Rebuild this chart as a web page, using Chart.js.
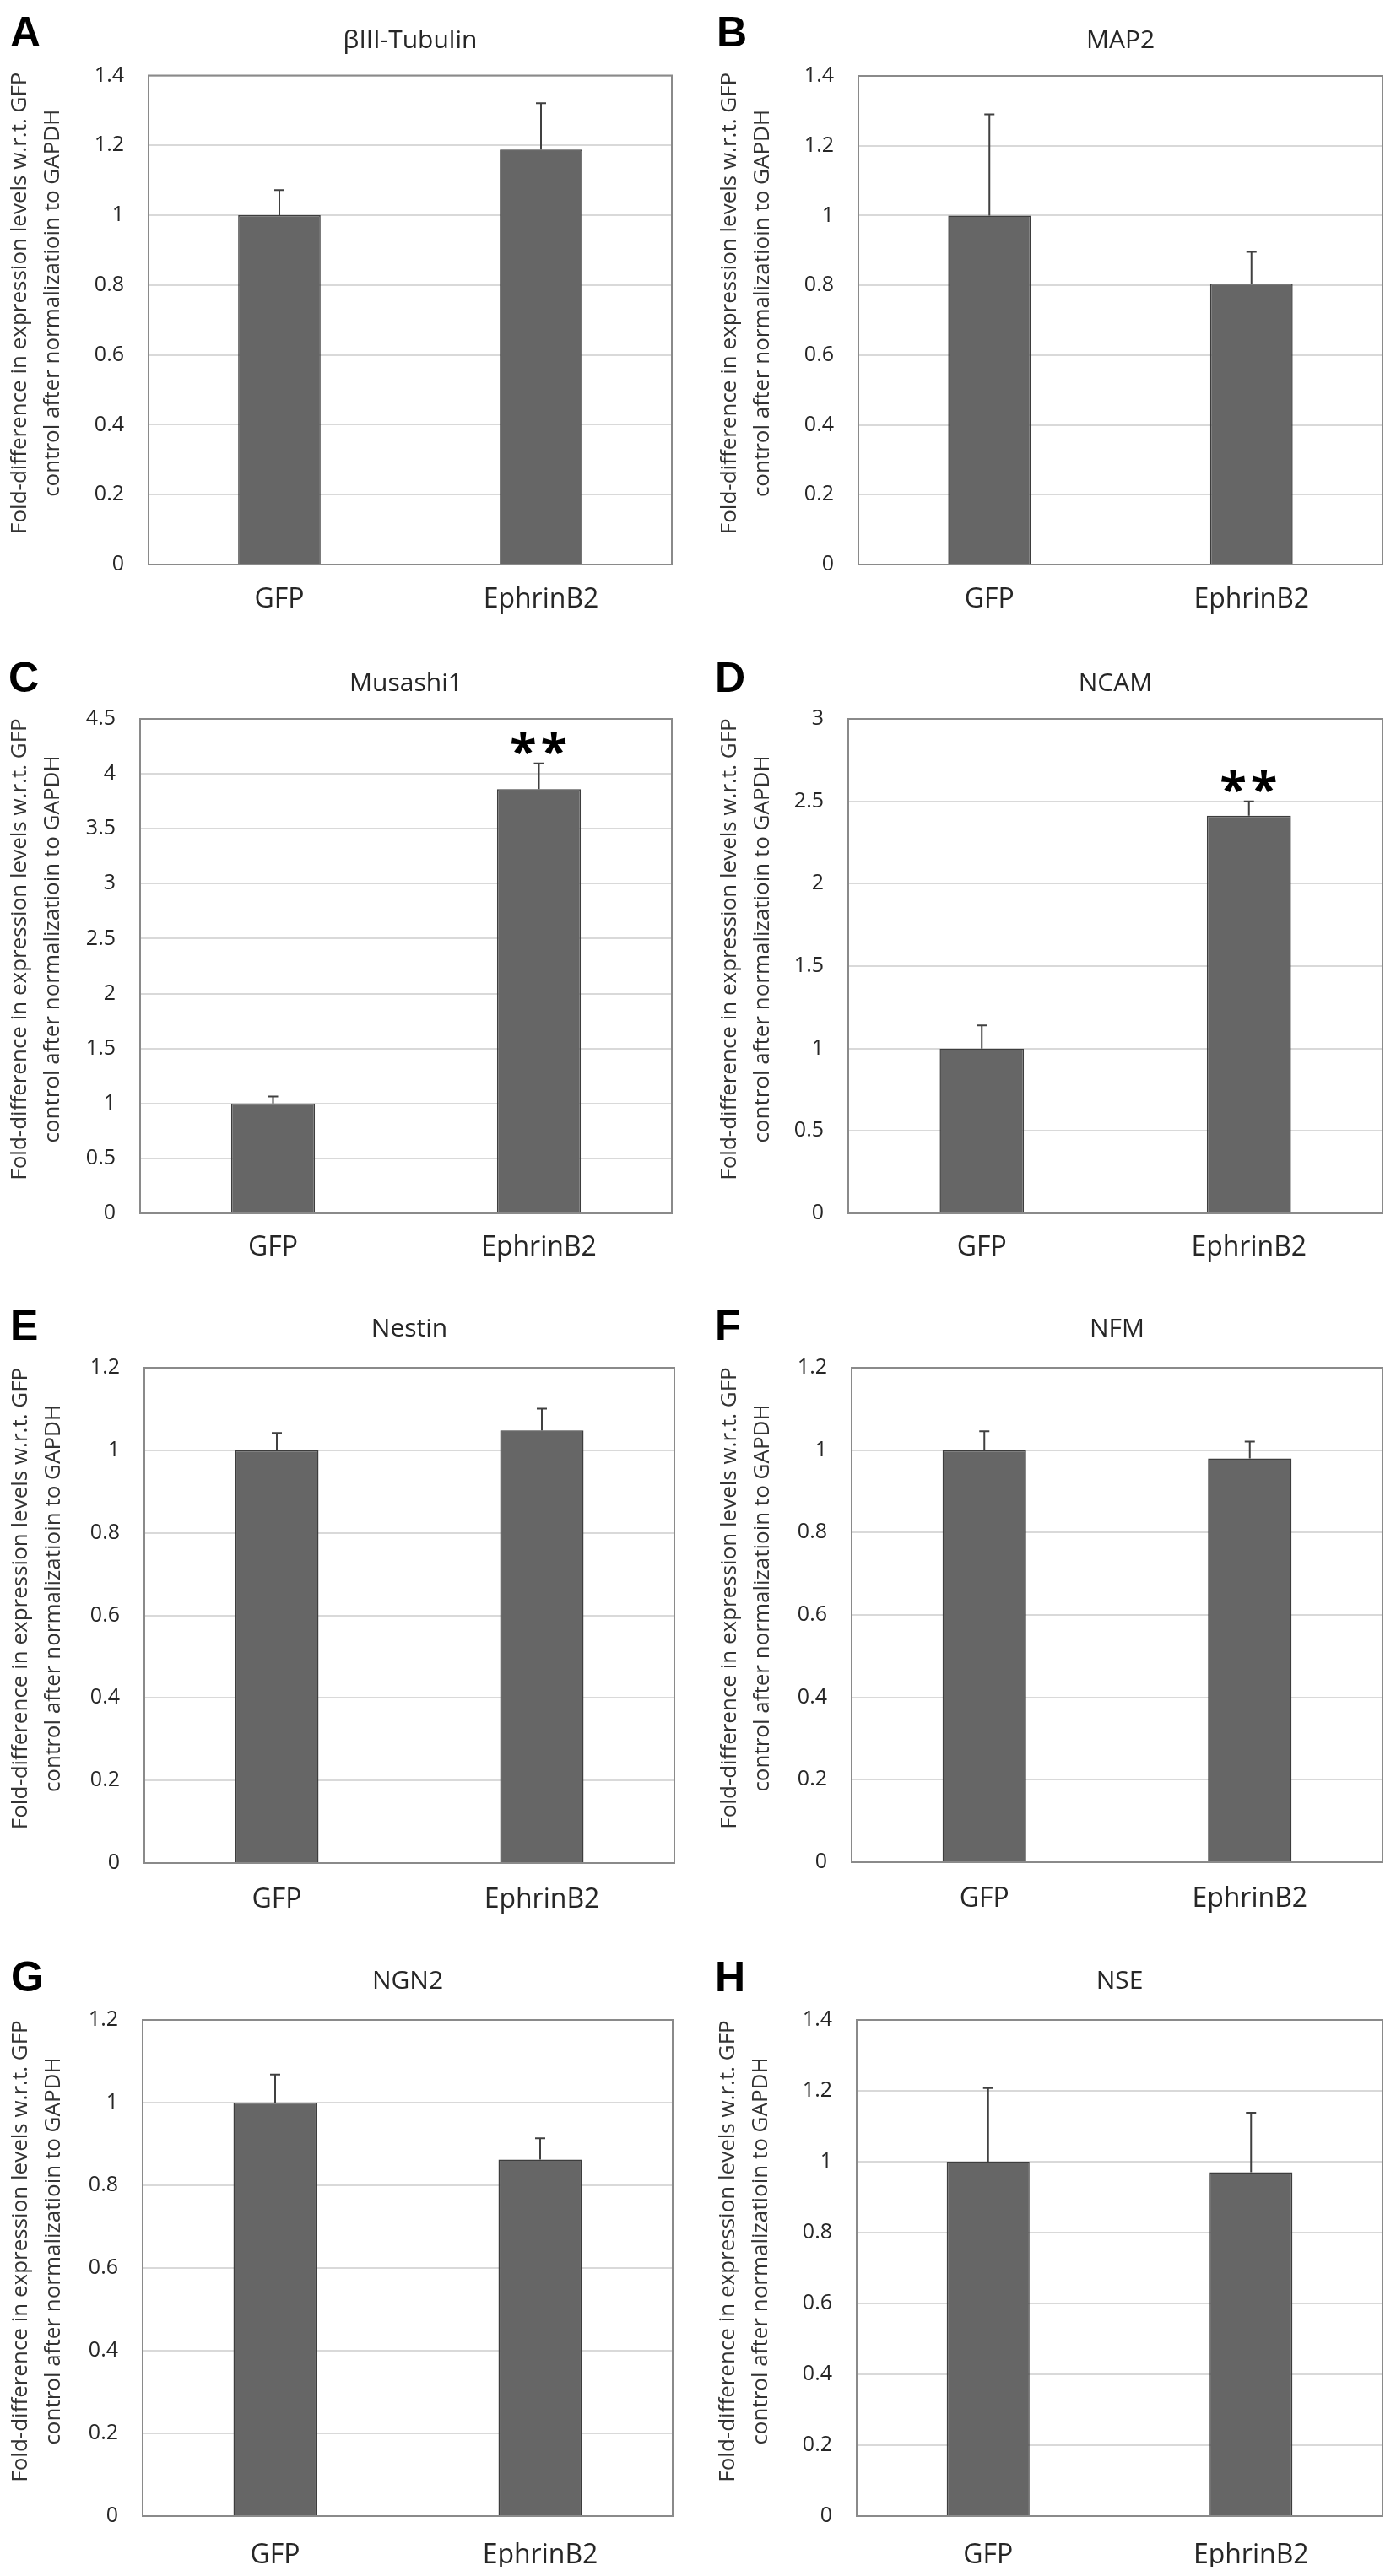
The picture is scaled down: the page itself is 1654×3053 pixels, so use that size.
<!DOCTYPE html>
<html><head><meta charset="utf-8">
<script src="https://cdn.jsdelivr.net/npm/chart.js@4.4.1/dist/chart.umd.min.js"></script>
<style>
html,body{margin:0;padding:0;background:#fff;}
#page{position:relative;width:1654px;height:3053px;overflow:hidden;background:#fff;}
#page canvas{position:absolute;}
.letter{position:absolute;font-family:'Liberation Sans',Arial,sans-serif;font-weight:bold;font-size:50px;line-height:50px;color:#000;}
</style></head><body><div id="page"></div>
<script>
// ---------- data ----------
const panelLetters = ['A','B','C','D','E','F','G','H'];
const genes = ['βIII-Tubulin','MAP2','Musashi1','NCAM','Nestin','NFM','NGN2','NSE'];
const categories = ['GFP','EphrinB2'];
const gfpMeans = [1, 1, 1, 1, 1, 1, 1, 1];
const gfpErrors = [0.072, 0.29, 0.064, 0.14, 0.042, 0.046, 0.068, 0.208];
const ephrinMeans = [1.188, 0.805, 3.86, 2.413, 1.048, 0.98, 0.862, 0.97];
const ephrinErrors = [0.133, 0.091, 0.235, 0.087, 0.053, 0.041, 0.052, 0.168];
const significance = ['', '', '**', '**', '', '', '', ''];
const yMax = [1.4, 1.4, 4.5, 3, 1.2, 1.2, 1.2, 1.4];
const yStep = [0.2, 0.2, 0.5, 0.5, 0.2, 0.2, 0.2, 0.2];
const yTitle = ['Fold-difference in expression levels w.r.t. GFP', 'control after normalizatioin to GAPDH'];

// ---------- layout (page pixels) ----------
const frames = [
  {x:0,   y:0,    w:827, h:760, L:176,  R:796,  T:89.5, B:669,  titleY:48,   xGap:15, ytX:24,  lx:12,  ly:13},
  {x:827, y:0,    w:827, h:760, L:1017, R:1638, T:90,   B:669,  titleY:48,   xGap:15, ytX:865, lx:849, ly:13},
  {x:0,   y:760,  w:827, h:770, L:166,  R:796,  T:852,  B:1438, titleY:810,  xGap:14, ytX:24,  lx:10,  ly:778},
  {x:827, y:760,  w:827, h:770, L:1005, R:1638, T:852,  B:1438, titleY:810,  xGap:14, ytX:865, lx:847, ly:778},
  {x:0,   y:1530, w:827, h:770, L:171,  R:799,  T:1621, B:2208, titleY:1575, xGap:17, ytX:25,  lx:12,  ly:1546},
  {x:827, y:1530, w:827, h:770, L:1009, R:1638, T:1621, B:2207, titleY:1575, xGap:17, ytX:865, lx:847, ly:1546},
  {x:0,   y:2300, w:827, h:753, L:169,  R:797,  T:2394, B:2982, titleY:2348, xGap:20, ytX:25,  lx:13,  ly:2318},
  {x:827, y:2300, w:827, h:753, L:1015, R:1638, T:2394, B:2982, titleY:2348, xGap:20, ytX:863, lx:847, ly:2318}
];
const X_AXIS_H = 60;
const TEXT = '#262626';
Chart.defaults.font.family = "'Open Sans', sans-serif";

const framePlugin = {
  id: 'plotFrame',
  afterDatasetsDraw(chart) {
    const a = chart.chartArea, ctx = chart.ctx;
    ctx.save();
    ctx.strokeStyle = '#8a8a8a';
    ctx.lineWidth = 2;
    ctx.strokeRect(a.left, a.top, a.right - a.left, a.bottom - a.top);
    ctx.restore();
  }
};

const errorBarPlugin = {
  id: 'errorBars',
  afterDatasetsDraw(chart) {
    const ctx = chart.ctx, ys = chart.scales.y;
    chart.data.datasets.forEach((ds, di) => {
      const meta = chart.getDatasetMeta(di);
      meta.data.forEach((bar, i) => {
        const top = ys.getPixelForValue(ds.data[i] + ds.errors[i]);
        ctx.save();
        ctx.strokeStyle = '#404040';
        ctx.lineWidth = 2;
        ctx.beginPath();
        ctx.moveTo(bar.x, bar.y);
        ctx.lineTo(bar.x, top);
        ctx.moveTo(bar.x - 6, top);
        ctx.lineTo(bar.x + 6, top);
        ctx.stroke();
        if (ds.marks[i]) {
          ctx.fillStyle = '#000';
          ctx.font = "bold 58px 'Open Sans', sans-serif";
          ctx.textAlign = 'center';
          ctx.textBaseline = 'alphabetic';
          try { ctx.letterSpacing = '5px'; } catch (e) {}
          ctx.fillText(ds.marks[i], bar.x + 2, top + 6);
        }
        ctx.restore();
      });
    });
  }
};

// vertical axis title, drawn with the chart's own area geometry
const yTitlePlugin = {
  id: 'yAxisTitle',
  afterDraw(chart, args, opts) {
    const ctx = chart.ctx, a = chart.chartArea;
    const cy = (a.top + a.bottom) / 2 - 20;
    ctx.save();
    ctx.fillStyle = '#333333';
    ctx.font = "26px 'Open Sans', sans-serif";
    ctx.textAlign = 'center';
    ctx.textBaseline = 'middle';
    opts.lines.forEach((line, k) => {
      ctx.save();
      ctx.translate(opts.x + k * 38.5, cy);
      ctx.rotate(-Math.PI / 2);
      ctx.fillText(line, 0, 0);
      ctx.restore();
    });
    ctx.restore();
  }
};

const page = document.getElementById('page');

frames.forEach((f, i) => {
  const lt = document.createElement('div');
  lt.className = 'letter';
  lt.textContent = panelLetters[i];
  lt.style.left = f.lx + 'px';
  lt.style.top = f.ly + 'px';
  page.appendChild(lt);

  const cv = document.createElement('canvas');
  cv.width = f.w; cv.height = f.h;
  cv.style.left = f.x + 'px'; cv.style.top = f.y + 'px';
  cv.style.width = f.w + 'px'; cv.style.height = f.h + 'px';
  page.appendChild(cv);

  new Chart(cv, {
    type: 'bar',
    data: {
      labels: categories,
      datasets: [{
        data: [gfpMeans[i], ephrinMeans[i]],
        errors: [gfpErrors[i], ephrinErrors[i]],
        marks: ['', significance[i]],
        backgroundColor: '#666666',
        borderColor: '#3d3d3d',
        borderWidth: 1.5,
        barPercentage: 0.315,
        categoryPercentage: 1
      }]
    },
    options: {
      responsive: false,
      animation: false,
      events: [],
      layout: { padding: { left: 0, right: f.x + f.w - f.R, top: 0, bottom: f.y + f.h - f.B - X_AXIS_H } },
      plugins: {
        legend: { display: false },
        tooltip: { enabled: false },
        title: {
          display: true, text: genes[i], fullSize: false, color: TEXT,
          font: { size: 30, weight: 'normal', lineHeight: 1.2 },
          padding: { top: f.titleY - f.y - 18, bottom: f.T - f.titleY - 18 }
        },
        yAxisTitle: { lines: yTitle, x: f.ytX - f.x }
      },
      scales: {
        x: {
          grid: { display: false }, border: { display: false },
          ticks: { color: TEXT, font: { size: 32 }, padding: f.xGap },
          afterFit: s => { s.height = X_AXIS_H; }
        },
        y: {
          min: 0, max: yMax[i],
          ticks: { stepSize: yStep[i], color: TEXT, font: { size: 25 }, padding: 29,
                   callback: v => String(Math.round(v * 10) / 10) },
          grid: { color: '#d9d9d9', lineWidth: 2, drawTicks: false },
          border: { display: false },
          title: { display: false },
          afterFit: s => { s.width = f.L - f.x; }
        }
      }
    },
    plugins: [framePlugin, errorBarPlugin, yTitlePlugin]
  });
});
</script>
</body></html>
